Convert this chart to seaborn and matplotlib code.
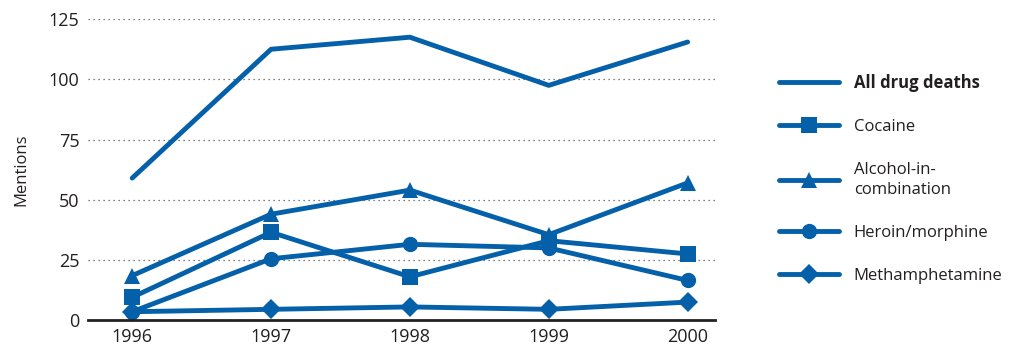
import numpy as np
import pandas as pd
import matplotlib.pyplot as plt
import seaborn as sns

years = [1996, 1997, 1998, 1999, 2000]
all_deaths = [59, 112.5, 117.5, 97.5, 115.5]
cocaine = [9.5, 36.5, 18, 33, 27.5]
alcohol = [18.5, 44, 54, 35.5, 57]
heroin = [3.5, 25.5, 31.5, 30, 16.5]
meth = [3.5, 4.5, 5.5, 4.5, 7.5]

series = ["All drug deaths", "Cocaine", "Alcohol-in-\ncombination",
          "Heroin/morphine", "Methamphetamine"]
values = [all_deaths, cocaine, alcohol, heroin, meth]
markers = [None, "s", "^", "o", "D"]
msizes = [0, 11, 12, 11, 10]

blue = "#0560aa"

sns.set_style("white")
plt.rcParams['font.family'] = ['Open Sans', 'DejaVu Sans']

fig = plt.figure(figsize=(10.09, 3.48), dpi=100)
ax = fig.add_axes([0.087, 0.080, 0.622, 0.865])

for name, vals, m, ms in zip(series, values, markers, msizes):
    df = pd.DataFrame({"year": years, "mentions": vals})
    sns.lineplot(data=df, x="year", y="mentions", ax=ax, color=blue,
                 linewidth=3.5, marker=m, markersize=ms,
                 markeredgewidth=0, label=name, clip_on=False)

ax.set_xlim(1995.68, 2000.2)
ax.set_ylim(0, 125)
ax.set_yticks([0, 25, 50, 75, 100, 125])
ax.set_xticks(years)
ax.yaxis.grid(True, linestyle=(0, (1, 3)), color="#555555", linewidth=0.9)
for s in ["top", "right", "left"]:
    ax.spines[s].set_visible(False)
ax.spines["bottom"].set_color("#222222")
ax.spines["bottom"].set_linewidth(2)
ax.tick_params(axis="both", length=0, labelsize=13, colors="#231f20", pad=6)
ax.set_xlabel("")
ax.set_ylabel("Mentions", fontsize=12, color="#231f20", labelpad=14)

handles, labels = ax.get_legend_handles_labels()
ax.legend_.remove()
leg = fig.legend(handles, labels, loc="upper left",
                 bbox_to_anchor=(0.757, 0.83), frameon=False,
                 fontsize=12, handlelength=3.6, handletextpad=0.9,
                 labelspacing=1.62)
for t in leg.get_texts():
    t.set_color("#231f20")
    t.set_linespacing(1.3)
leg.get_texts()[0].set_fontweight("bold")

plt.savefig("out.png", dpi=100)
